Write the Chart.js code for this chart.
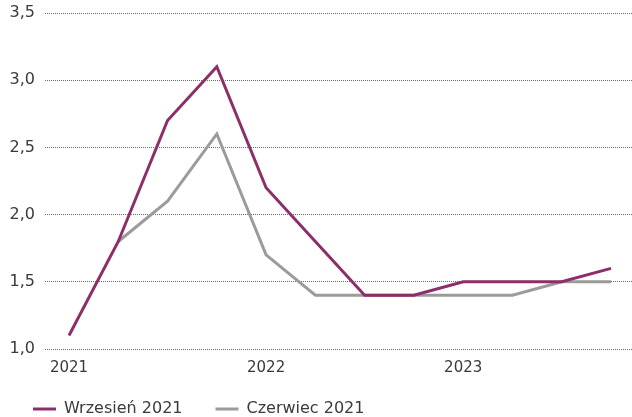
<!DOCTYPE html>
<html>
<head>
<meta charset="utf-8">
<script src="https://cdn.jsdelivr.net/npm/chart.js@4"></script>
<style>
html,body{margin:0;padding:0;background:#fff}
#wrap{width:632px;height:417px;position:relative}
</style>
</head>
<body>
<div id="wrap"><canvas id="c"></canvas></div>
<script>
// Quarterly categories
const quarters = ['2021 Q1','2021 Q2','2021 Q3','2021 Q4','2022 Q1','2022 Q2','2022 Q3','2022 Q4','2023 Q1','2023 Q2','2023 Q3','2023 Q4'];
const yearLabels = ['2021','2022','2023'];
const yearTickIndex = [0, 4, 8];
const seriesNames = ['Wrzesień 2021', 'Czerwiec 2021'];
const wrzesien2021 = [1.1, 1.8, 2.7, 3.1, 2.2, 1.8, 1.4, 1.4, 1.5, 1.5, 1.5, 1.6];
const czerwiec2021 = [null, 1.8, 2.1, 2.6, 1.7, 1.4, 1.4, 1.4, 1.4, 1.4, 1.5, 1.5];
const yTicks = [1.0, 1.5, 2.0, 2.5, 3.0, 3.5];

const toPoints = arr => arr.map((v, i) => ({x: i, y: v}));
const FONT = 'DejaVu Sans';

// Let the legend row start a little higher so it sits just under the year labels
const shiftLegend = {
  id: 'shiftLegend',
  afterLayout(chart) {
    const lg = chart.legend;
    if (lg) { lg.top -= 9; }
  }
};

new Chart(document.getElementById('c'), {
  type: 'line',
  plugins: [shiftLegend],
  data: {
    datasets: [
      {
        label: seriesNames[0],
        data: toPoints(wrzesien2021),
        borderColor: '#8c2e68',
        backgroundColor: '#8c2e68',
        borderWidth: 3,
        pointRadius: 0,
        tension: 0,
        fill: false
      },
      {
        label: seriesNames[1],
        data: toPoints(czerwiec2021),
        borderColor: '#9b9b9b',
        backgroundColor: '#9b9b9b',
        borderWidth: 3,
        pointRadius: 0,
        tension: 0,
        fill: false
      }
    ]
  },
  options: {
    responsive: true,
    maintainAspectRatio: false,
    animation: false,
    devicePixelRatio: 1,
    layout: { padding: { top: 0, left: 0, right: 0, bottom: 0 } },
    plugins: {
      tooltip: { enabled: false },
      legend: {
        position: 'bottom',
        align: 'start',
        maxHeight: 40,
        labels: {
          usePointStyle: true,
          pointStyle: 'line',
          pointStyleWidth: 23,
          padding: 33,
          color: '#3a3a3a',
          font: { family: FONT, size: 16 }
        }
      }
    },
    scales: {
      x: {
        type: 'linear',
        min: -0.487,
        max: 11.426,
        grid: { display: false, drawTicks: false },
        border: { display: false },
        afterBuildTicks: axis => { axis.ticks = yearTickIndex.map(v => ({value: v})); },
        afterFit: axis => { axis.height = 28; },
        ticks: {
          autoSkip: false,
          maxRotation: 0,
          padding: 10,
          color: '#3a3a3a',
          font: { family: FONT, size: 15 },
          callback: v => yearLabels[yearTickIndex.indexOf(v)]
        }
      },
      y: {
        min: 1.0,
        max: 3.5,
        afterBuildTicks: axis => { axis.ticks = yTicks.map(v => ({value: v})); },
        afterFit: axis => { axis.width = 45; axis.paddingTop = 13; axis.paddingBottom = 0; },
        grid: { color: '#6a6a6a', lineWidth: 1, drawTicks: false },
        border: { display: false, dash: [1, 1] },
        ticks: {
          padding: 10,
          color: '#3a3a3a',
          font: { family: FONT, size: 16 },
          callback: v => v.toFixed(1).replace('.', ',')
        }
      }
    }
  }
});
</script>
</body>
</html>
